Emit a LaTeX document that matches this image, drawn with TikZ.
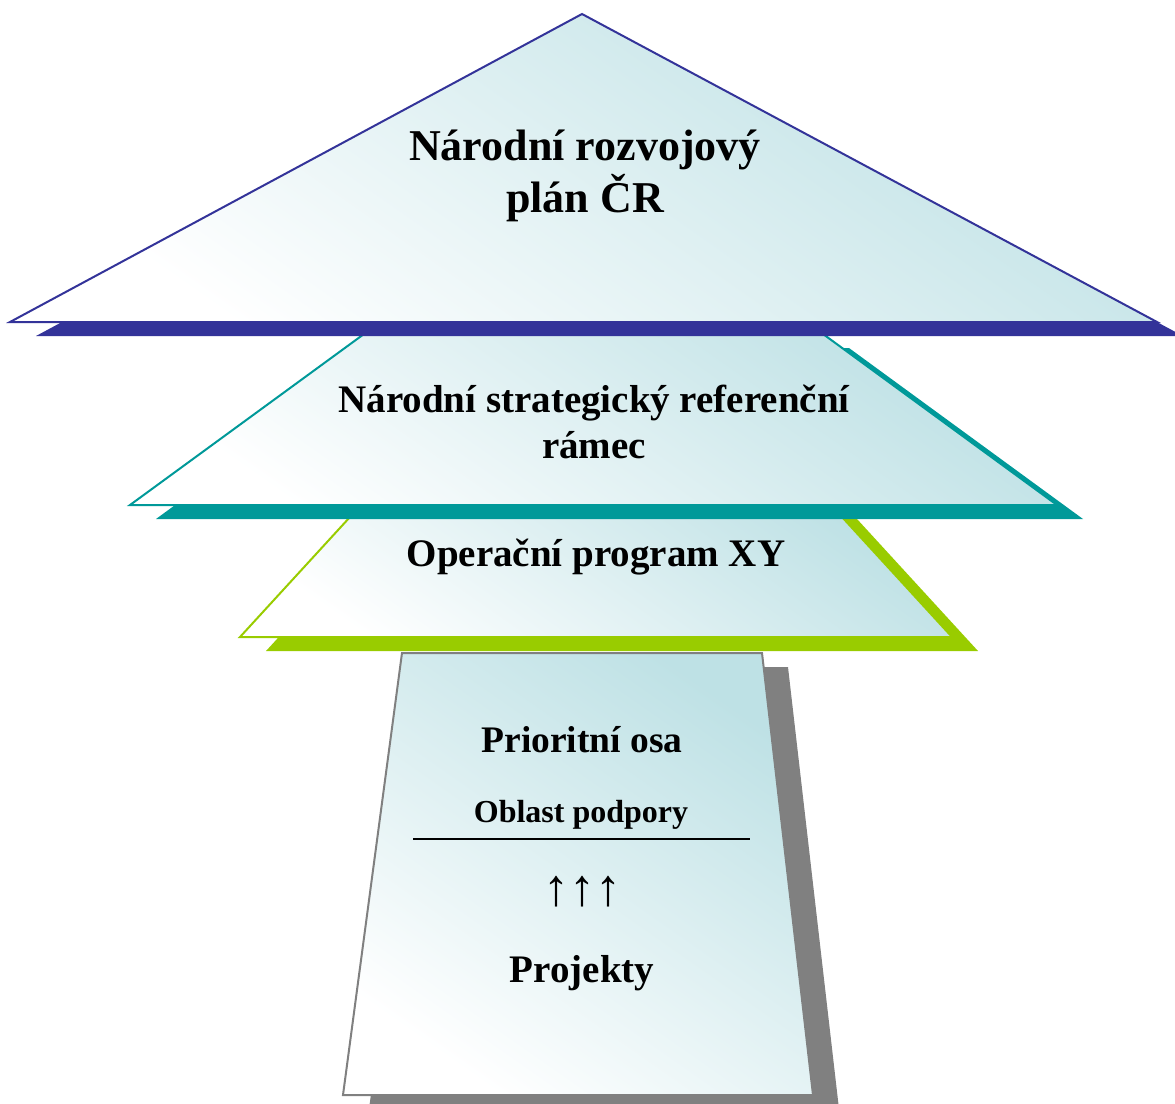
\documentclass[tikz,border=0pt]{standalone}
\usepackage{fontspec}
\setmainfont{Liberation Serif}

\definecolor{planblue}{RGB}{51,51,153}
\definecolor{nsrteal}{RGB}{0,153,153}
\definecolor{opgreen}{RGB}{153,204,0}
\definecolor{osagray}{RGB}{128,128,128}
\definecolor{mist}{RGB}{190,225,229}

\tikzset{
	layer/.style={draw=#1, line width=2pt, line join=miter, top color=mist, bottom color=white, shading angle=-35},
	shade/.style={fill=#1, xshift=26pt, yshift=-14pt},
	big/.style={font=\bfseries\fontsize{44}{52}\selectfont, align=center, inner sep=0pt},
	mid/.style={font=\bfseries\fontsize{39}{46}\selectfont, align=center, inner sep=0pt},
	small/.style={font=\bfseries\fontsize{32}{38}\selectfont, inner sep=0pt}
}

\begin{document}
\begin{tikzpicture}[x=1pt, y=-1pt]
	\useasboundingbox (0,0) rectangle (1175,1103);
	
	% Prioritni osa
	\fill[shade=osagray] (402,653) -- (762,653) -- (813,1095) -- (343,1095) -- cycle;
	\path[layer=osagray] (402,653) -- (762,653) -- (813,1095) -- (343,1095) -- cycle;
	
	% Operacni program
	\fill[shade=opgreen] (361,505) -- (831,505) -- (952,637) -- (240,637) -- cycle;
	\path[layer=opgreen] (361,505) -- (831,505) -- (952,637) -- (240,637) -- cycle;
	
	% NSRR
	\fill[shade=nsrteal] (364,334) -- (823,334) -- (1057,505) -- (130,505) -- cycle;
	\path[layer=nsrteal] (364,334) -- (823,334) -- (1057,505) -- (130,505) -- cycle;
	
	% NRP
	\fill[shade=planblue] (582,14) -- (1157,322) -- (10,322) -- cycle;
	\path[layer=planblue] (582,14) -- (1157,322) -- (10,322) -- cycle;
	
	\node[big, anchor=base] (plan) at (585,212) {Národní rozvojový\\plán ČR};
	\node[mid, anchor=base] (nsrr) at (594,458) {Národní strategický referenční\\rámec};
	\node[mid, anchor=base] (op) at (596,566) {Operační program XY};
	\node[mid, anchor=base, font=\bfseries\fontsize{37.5}{45}\selectfont] (osa) at (582,752) {Prioritní osa};
	\node[small, anchor=base] (oblast) at (581,822) {Oblast podpory};
	\draw[line width=1.5pt] (413,839) -- (750,839);
	\node[font=\bfseries\fontsize{52}{60}\selectfont, inner sep=0pt, anchor=base] (sipky) at (582,905) {↑↑↑};
	\node[mid, anchor=base] (projekty) at (582,982) {Projekty};
\end{tikzpicture}
\end{document}
